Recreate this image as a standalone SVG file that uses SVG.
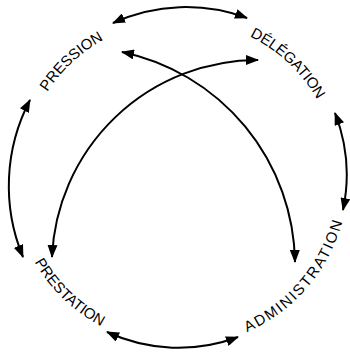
<svg xmlns="http://www.w3.org/2000/svg" xmlns:xlink="http://www.w3.org/1999/xlink" width="350" height="353" viewBox="0 0 350 353">
  <style>
    .lbl { font-family: "Liberation Sans", Arial, sans-serif; font-size: 15px; fill: #000; }
    .conn { fill: none; stroke: #000; stroke-width: 2; marker-start: url(#ah); marker-end: url(#ah); }
  </style>
  <defs>
    <marker id="ah" viewBox="0 0 13 10" refX="12" refY="5" markerWidth="13" markerHeight="10" markerUnits="userSpaceOnUse" orient="auto-start-reverse">
      <path d="M0,0 L13,5 L0,10 z" fill="#000"/>
    </marker>
    <path id="topPath" d="M22,178 A158,158 0 0 1 338,178 A158,158 0 0 1 22,178"/>
    <path id="botPath" d="M12,178 A168,168 0 0 0 348,178 A168,168 0 0 0 12,178"/>
  </defs>
  <rect width="350" height="353" fill="#fff"/>
  <g id="connectors">
    <path class="conn" d="M113,23 A175,175 0 0 1 247,18"/>
    <path class="conn" d="M335,113 A170,170 0 0 1 343,210"/>
    <path class="conn" d="M238,337 A170,170 0 0 1 107,332"/>
    <path class="conn" d="M23,257 A185,185 0 0 1 30,100"/>
    <path class="conn" d="M122,52 A218,218 0 0 1 295,262"/>
    <path class="conn" d="M52,257 A206,206 0 0 1 258,60"/>
  </g>
  <g id="pression">
    <text class="lbl" text-anchor="middle" letter-spacing="0"><textPath xlink:href="#topPath" startOffset="13.06%">PRESSION</textPath></text>
  </g>
  <g id="delegation">
    <text class="lbl" text-anchor="middle" letter-spacing="-0.2"><textPath xlink:href="#topPath" startOffset="37%">DÉLÉGATION</textPath></text>
  </g>
  <g id="prestation">
    <text class="lbl" text-anchor="middle" letter-spacing="0"><textPath xlink:href="#botPath" startOffset="12.78%">PRESTATION</textPath></text>
  </g>
  <g id="administration">
    <text class="lbl" text-anchor="middle" letter-spacing="1.8"><textPath xlink:href="#botPath" startOffset="38.75%">ADMINISTRATION</textPath></text>
  </g>
</svg>
